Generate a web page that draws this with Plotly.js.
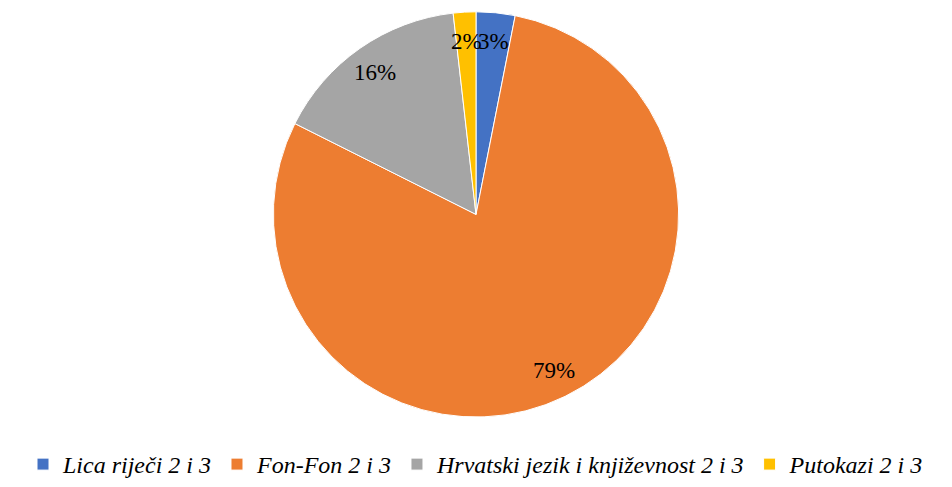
<!DOCTYPE html>
<html><head><meta charset="utf-8">
<script src="https://cdn.plot.ly/plotly-3.0.1.min.js"></script>
<style>html,body{margin:0;padding:0;background:#fff}#chart{width:952px;height:487px}</style>
</head><body><div id="chart"></div>
<script>
const labels = ["Lica riječi 2 i 3", "Fon-Fon 2 i 3", "Hrvatski jezik i književnost 2 i 3", "Putokazi 2 i 3"];
const values = [3.1, 79.3, 15.8, 1.8];
const colors = ["#4472C4", "#ED7D31", "#A5A5A5", "#FFC000"];

const W = 952, H = 487;
const cx = 476, cy = 218, R = 204;
const Rd = R + 2;
const dom = {x: [(cx - Rd) / W, (cx + Rd) / W], y: [(H - cy - Rd) / H, (H - cy + Rd) / H]};
const FONT = 'Liberation Serif';

const total = values.reduce((a, b) => a + b, 0);
const annotations = [];
let acc = 0;
values.forEach((v, i) => {
  const mid = (acc + v / 2) / total * 2 * Math.PI;
  acc += v;
  const r = 0.865 * R;
  const px = cx + r * Math.sin(mid), py = cy - r * Math.cos(mid);
  annotations.push({
    xref: 'paper', yref: 'paper', x: px / W, y: (H - py) / H,
    text: Math.round(v / total * 100) + '%', showarrow: false,
    font: {family: FONT, size: 23, color: '#000'},
    xanchor: 'center', yanchor: 'middle'
  });
});

const trace = {
  type: 'pie', labels: labels, values: values, sort: false,
  direction: 'clockwise', rotation: 0,
  marker: {colors: colors, line: {color: '#fff', width: 1}},
  textinfo: 'none', hoverinfo: 'label+percent',
  domain: dom
};

const layout = {
  width: W, height: H, margin: {l: 0, r: 0, t: 0, b: 0},
  paper_bgcolor: '#fff', showlegend: true,
  legend: {orientation: 'h', x: 0.5, xanchor: 'center', y: 0.03, yanchor: 'middle',
    font: {family: FONT, size: 24, color: '#000', style: 'italic'},
    itemwidth: 30, traceorder: 'normal'},
  annotations: annotations
};
Plotly.newPlot('chart', [trace], layout, {displayModeBar: false, staticPlot: true});
</script></body></html>
